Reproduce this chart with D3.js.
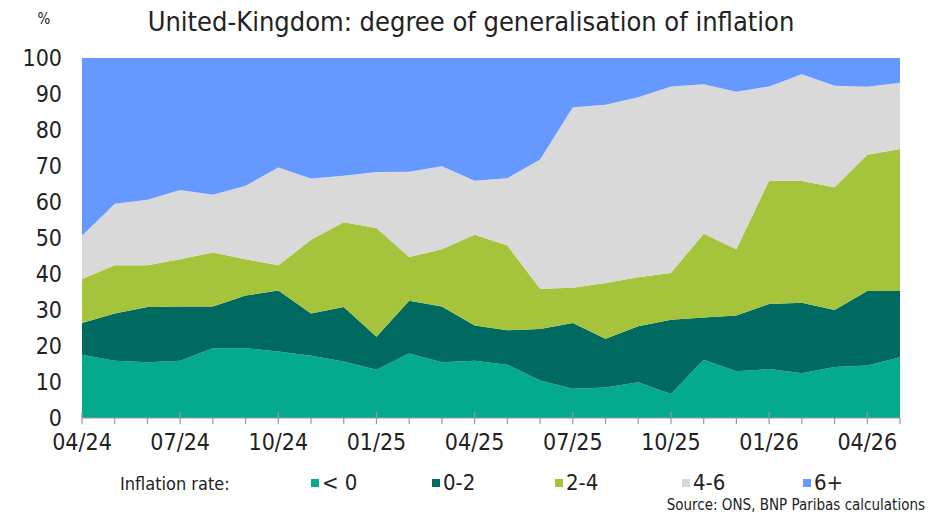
<!DOCTYPE html>
<html>
<head>
<meta charset="utf-8">
<script src="https://cdn.jsdelivr.net/npm/d3@7"></script>
<style>
  body { margin: 0; background: #fff; }
  svg text { font-family: "Liberation Sans Narrow", "DejaVu Sans Condensed", sans-serif; fill: #222; }
</style>
</head>
<body>
<div id="chart"></div>
<script>
// months 04/24 .. 05/26
var months = ["04/24","05/24","06/24","07/24","08/24","09/24","10/24","11/24","12/24",
  "01/25","02/25","03/25","04/25","05/25","06/25","07/25","08/25","09/25","10/25","11/25","12/25",
  "01/26","02/26","03/26","04/26","05/26"];
var tickLabels = ["04/24","07/24","10/24","01/25","04/25","07/25","10/25","01/26","04/26"];
var keys = ["< 0", "0-2", "2-4", "4-6", "6+"];

var below0 = [17.6,15.9,15.5,15.9,19.4,19.4,18.5,17.3,15.7,13.4,17.9,15.5,15.9,14.8,10.4,8.1,8.5,9.9,6.7,16.2,13.0,13.6,12.4,14.2,14.6,16.9];
var from0to2 = [8.8,13.1,15.3,15.1,11.6,14.6,16.9,11.7,15.1,9.2,14.7,15.5,9.8,9.6,14.3,18.3,13.5,15.6,20.6,11.7,15.5,18.1,19.6,15.8,20.7,18.4];
var from2to4 = [12.2,13.4,11.6,13.1,15.0,10.1,7.0,20.5,23.6,30.2,12.1,15.9,25.2,23.5,11.2,9.8,15.5,13.6,13.0,23.3,18.4,34.3,33.8,34.1,37.8,39.4];
var from4to6 = [12.0,17.1,18.2,19.2,16.0,20.4,27.2,17.0,12.9,15.5,23.7,23.0,15.0,18.7,35.9,50.1,49.5,50.0,51.8,41.5,43.7,26.1,29.7,28.2,18.9,18.4];
var above6 = [49.4,40.5,39.4,36.7,38.0,35.5,30.4,33.5,32.7,31.7,31.6,30.1,34.1,33.4,28.2,13.7,13.0,10.9,7.9,7.3,9.4,7.9,4.5,7.7,8.0,6.9];
var yTicks = [0,10,20,30,40,50,60,70,80,90,100];

var colors = ["#03aa8c", "#006a60", "#a5c33b", "#d9d9d9", "#6699ff"];

var width = 941, height = 514;
var margin = {top: 58, right: 41, bottom: 96, left: 82};
var w = width - margin.left - margin.right;
var h = height - margin.top - margin.bottom;

var data = months.map(function(m, i) {
  return {month: m, "< 0": below0[i], "0-2": from0to2[i], "2-4": from2to4[i], "4-6": from4to6[i], "6+": above6[i]};
});

var svg = d3.select("#chart").append("svg")
    .attr("width", width)
    .attr("height", height);

var g = svg.append("g")
    .attr("transform", "translate(" + margin.left + "," + margin.top + ")");

var x = d3.scalePoint().domain(months).range([0, w]);
var y = d3.scaleLinear().domain([0, 100]).range([h, 0]);

var stack = d3.stack().keys(keys)(data);

var area = d3.area()
    .x(function(d) { return x(d.data.month); })
    .y0(function(d) { return y(d[0]); })
    .y1(function(d) { return y(d[1]); });

g.selectAll("path.layer")
  .data(stack)
  .enter().append("path")
    .attr("class", "layer")
    .attr("fill", function(d, i) { return colors[i]; })
    .attr("d", area);

// y labels (no axis line)
g.selectAll("text.ylab")
  .data(yTicks)
  .enter().append("text")
    .attr("class", "ylab")
    .attr("x", -20)
    .attr("y", function(d) { return y(d); })
    .attr("dy", "0.35em")
    .attr("text-anchor", "end")
    .attr("font-size", 23)
    .text(function(d) { return d; });

// x axis
var xAxis = g.append("g").attr("transform", "translate(0," + h + ")");
xAxis.append("line")
    .attr("x1", 0).attr("x2", w)
    .attr("stroke", "#999").attr("stroke-width", 1.2);
xAxis.selectAll("line.tick")
  .data(months)
  .enter().append("line")
    .attr("class", "tick")
    .attr("x1", function(d) { return x(d); })
    .attr("x2", function(d) { return x(d); })
    .attr("y1", function(d) { return tickLabels.indexOf(d) >= 0 ? -6 : 0; })
    .attr("y2", 6)
    .attr("stroke", "#999").attr("stroke-width", 1.2);
xAxis.selectAll("text")
  .data(tickLabels)
  .enter().append("text")
    .attr("x", function(d) { return x(d); })
    .attr("y", 32)
    .attr("text-anchor", "middle")
    .attr("font-size", 23)
    .text(function(d) { return d; });

// title
svg.append("text")
    .attr("x", 471).attr("y", 31)
    .attr("text-anchor", "middle")
    .attr("font-size", 27)
    .text("United-Kingdom: degree of generalisation of inflation");
svg.append("text")
    .attr("x", 44).attr("y", 24)
    .attr("text-anchor", "middle")
    .attr("font-size", 15)
    .text("%");

// legend
svg.append("text")
    .attr("x", 120).attr("y", 490)
    .attr("font-size", 18)
    .text("Inflation rate:");
var legendX = [311, 432, 555, 682, 803];
var legend = svg.selectAll("g.legend")
  .data(keys)
  .enter().append("g")
    .attr("class", "legend")
    .attr("transform", function(d, i) { return "translate(" + legendX[i] + ",479)"; });
legend.append("rect")
    .attr("width", 8).attr("height", 8)
    .attr("fill", function(d, i) { return colors[i]; });
legend.append("text")
    .attr("x", 11).attr("y", 11)
    .attr("font-size", 22)
    .text(function(d) { return d; });

svg.append("text")
    .attr("x", 925).attr("y", 510)
    .attr("text-anchor", "end")
    .attr("font-size", 15)
    .text("Source: ONS, BNP Paribas calculations");
</script>
</body>
</html>
